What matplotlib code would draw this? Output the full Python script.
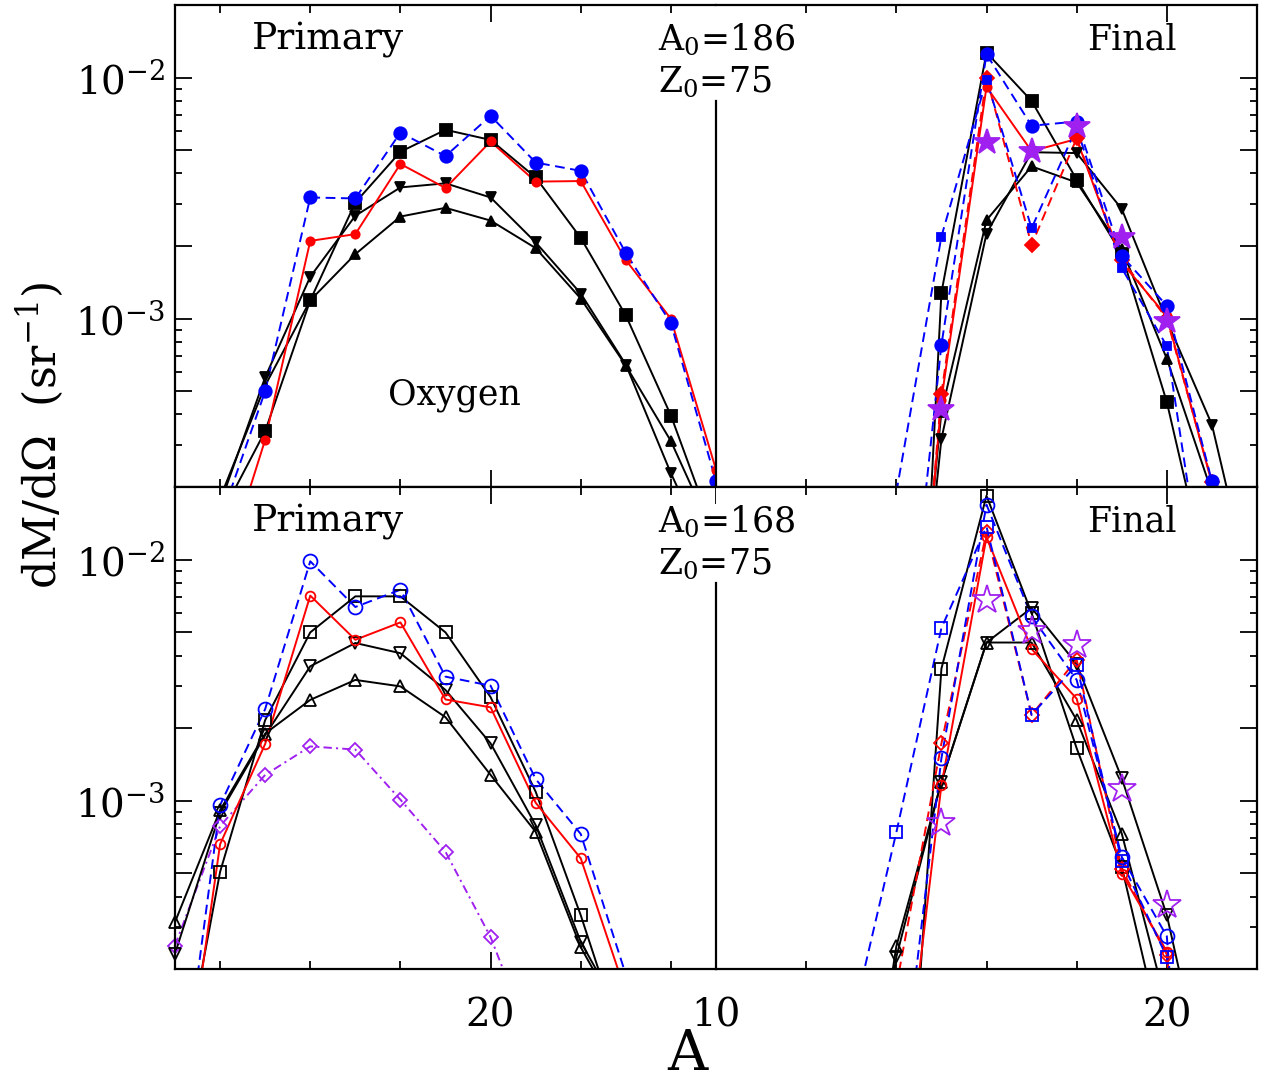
import numpy as np
import matplotlib
matplotlib.use("Agg")
import matplotlib.pyplot as plt
from matplotlib.ticker import FixedLocator, FixedFormatter, NullFormatter

plt.rcParams['font.family'] = ['DejaVu Serif']
plt.rcParams['mathtext.fontset'] = 'dejavuserif'
plt.rcParams['lines.scale_dashes'] = False

nan = np.nan
# ---------------- data ----------------
A_left_top = [32, 30, 28, 26, 24, 22, 20, 18, 16, 14, 12, 10]
A_left_bot = [34, 32, 30, 28, 26, 24, 22, 20, 18, 16, 14, 12, 10]
A_right = [13, 14, 15, 16, 17, 18, 19, 20, 21, 22]

# top panel, primary (A0=186)
tl_square = [1.5e-4, 3.41e-4, 1.19e-3, 3.03e-3, 4.92e-3, 6.07e-3, 5.51e-3, 3.85e-3, 2.16e-3, 1.03e-3, 3.96e-4, 1.22e-4]
tl_up     = [1.8e-4, 5.27e-4, 1.19e-3, 1.85e-3, 2.65e-3, 2.88e-3, 2.55e-3, 1.96e-3, 1.21e-3, 6.38e-4, 3.10e-4, 1.2e-4]
tl_down   = [1.7e-4, 5.71e-4, 1.49e-3, 2.67e-3, 3.50e-3, 3.64e-3, 3.18e-3, 2.07e-3, 1.27e-3, 6.44e-4, 2.28e-4, 9e-5]
tl_red    = [8e-5, 3.14e-4, 2.10e-3, 2.24e-3, 4.38e-3, 3.48e-3, 5.43e-3, 3.70e-3, 3.72e-3, 1.75e-3, 9.97e-4, 2.36e-4]
tl_blue   = [1.45e-4, 5.0e-4, 3.18e-3, 3.15e-3, 5.91e-3, 4.72e-3, 6.94e-3, 4.44e-3, 4.10e-3, 1.87e-3, 9.57e-4, 2.11e-4]

# top panel, final (A = 13..22)
tr_square = [nan, 3e-7, 1.28e-3, 1.27e-2, 8.0e-3, 3.77e-3, 1.85e-3, 4.5e-4, 7e-5, nan]
tr_up     = [nan, 5e-6, 4.1e-4, 2.56e-3, 4.28e-3, 3.67e-3, 1.94e-3, 6.81e-4, 1.9e-4, nan]
tr_down   = [nan, 5e-6, 3.17e-4, 2.25e-3, 4.9e-3, 4.86e-3, 2.85e-3, 9.8e-4, 3.63e-4, 5.8e-5]
tr_red    = [nan, 3e-6, 4.6e-4, 9.15e-3, 4.95e-3, 5.56e-3, 1.71e-3, 1.02e-3, 2.07e-4, nan]
tr_redD   = [nan, 3e-6, 4.88e-4, 1.0e-2, 2.02e-3, 5.6e-3, 1.75e-3, 1.0e-3, 2.1e-4, nan]
tr_blue   = [nan, 1.4e-5, 7.78e-4, 1.25e-2, 6.31e-3, 6.57e-3, 1.82e-3, 1.13e-3, 2.11e-4, nan]
tr_blueS  = [nan, 1.9e-4, 2.19e-3, 9.8e-3, 2.37e-3, 6.2e-3, 1.62e-3, 7.68e-4, 4.5e-5, nan]
tr_star   = [nan, nan, 4.22e-4, 5.42e-3, 4.97e-3, 6.31e-3, 2.17e-3, 9.76e-4, nan, nan]

# bottom panel, primary (A0=168)
bl_square = [5.1e-5, 5.07e-4, 2.16e-3, 4.99e-3, 7.04e-3, 7.04e-3, 4.99e-3, 2.69e-3, 1.09e-3, 3.35e-4, 9e-5, nan, nan]
bl_up     = [3.14e-4, 9.14e-4, 1.90e-3, 2.62e-3, 3.17e-3, 2.98e-3, 2.22e-3, 1.28e-3, 7.43e-4, 2.47e-4, 1.14e-4, nan, nan]
bl_down   = [2.32e-4, 8.9e-4, 1.87e-3, 3.61e-3, 4.51e-3, 4.09e-3, 2.88e-3, 1.73e-3, 7.92e-4, 2.60e-4, 1.2e-4, nan, nan]
bl_red    = [3.2e-5, 6.6e-4, 1.72e-3, 7.09e-3, 4.65e-3, 5.49e-3, 2.63e-3, 2.44e-3, 9.81e-4, 5.77e-4, 1.6e-4, nan, nan]
bl_blue   = [3.7e-5, 9.59e-4, 2.40e-3, 9.84e-3, 6.36e-3, 7.50e-3, 3.27e-3, 3.00e-3, 1.23e-3, 7.28e-4, 1.9e-4, nan, nan]
bl_purple = [2.51e-4, 7.85e-4, 1.28e-3, 1.68e-3, 1.63e-3, 1.01e-3, 6.14e-4, 2.72e-4, 9e-5, nan, nan, nan, nan]

# bottom panel, final (A = 13..22)
br_square = [nan, 7e-6, 3.53e-3, 1.84e-2, 6.0e-3, 1.65e-3, 5.32e-4, 8.5e-5, nan, nan]
br_up     = [1.5e-5, 2.49e-4, 1.2e-3, 4.53e-3, 4.53e-3, 2.16e-3, 7.31e-4, 1.4e-4, nan, nan]
br_down   = [1.5e-5, 2.25e-4, 1.2e-3, 4.53e-3, 6.3e-3, 3.69e-3, 1.24e-3, 3.35e-4, 4.9e-5, nan]
br_red    = [nan, 3.1e-5, 1.16e-3, 1.24e-2, 4.26e-3, 2.65e-3, 4.99e-4, 2.37e-4, 1e-6, nan]
br_redD   = [nan, 1.7e-4, 1.73e-3, 1.3e-2, 2.27e-3, 3.85e-3, 5.2e-4, 2.3e-4, 1e-6, nan]
br_blue   = [nan, 4e-5, 1.50e-3, 1.69e-2, 5.81e-3, 3.17e-3, 5.85e-4, 2.74e-4, 1e-6, nan]
br_blueS  = [1.17e-4, 7.39e-4, 5.2e-3, 1.37e-2, 2.27e-3, 3.66e-3, 5.6e-4, 2.25e-4, 1e-6, nan]
br_star   = [nan, nan, 8.05e-4, 6.82e-3, 5.04e-3, 4.43e-3, 1.12e-3, 3.69e-4, nan, nan]

YLIM = (2.0e-4, 2.0e-2)
PURPLE = '#A020F0'

# ---------------- figure ----------------
W, H = 1262, 1080
fig = plt.figure(figsize=(W / 100, H / 100), dpi=100)

def fx(px):
    return px / W

def fy(py):
    return 1 - py / H

xl, xm, xr = fx(175), fx(716), fx(1257)
panels = [(fy(487), fy(5) - fy(487)), (fy(969.3), fy(487) - fy(969.3))]

axes = []
for (b, h) in panels:
    axL = fig.add_axes([xl, b, xm - xl, h])
    axR = fig.add_axes([xm, b, xr - xm, h])
    axes.append((axL, axR))


def style(ax, side, bottom_row):
    ax.set_yscale('log')
    ax.set_ylim(*YLIM)
    for s in ax.spines.values():
        s.set_linewidth(1.6)
    ax.yaxis.set_major_locator(FixedLocator([5e-4, 1e-3, 2e-3, 5e-3, 1e-2]))
    ax.yaxis.set_minor_locator(FixedLocator([3e-4, 4e-4, 6e-4, 7e-4, 8e-4, 9e-4,
                                             3e-3, 4e-3, 6e-3, 7e-3, 8e-3, 9e-3]))
    ax.yaxis.set_minor_formatter(NullFormatter())
    if side == 'L':
        ax.spines['right'].set_visible(False)
        ax.set_xlim(34, 10)
        ax.xaxis.set_major_locator(FixedLocator([20, 10] if bottom_row else [20]))
        ax.xaxis.set_major_formatter(FixedFormatter(['20', '10'] if bottom_row else ['20']))
        ax.xaxis.set_minor_locator(FixedLocator([32, 28, 24, 16, 12]))
        ax.yaxis.set_major_formatter(FixedFormatter(['', r'$10^{-3}$', '', '', r'$10^{-2}$']))
        ax.tick_params(axis='y', which='both', left=True, right=False, labelleft=True)
    else:
        ax.spines['left'].set_visible(False)
        ax.set_xlim(10, 22)
        ax.xaxis.set_major_locator(FixedLocator([20]))
        ax.xaxis.set_major_formatter(FixedFormatter(['20']))
        ax.xaxis.set_minor_locator(FixedLocator([12, 14, 16, 18]))
        ax.yaxis.set_major_formatter(NullFormatter())
        ax.tick_params(axis='y', which='both', left=False, right=True, labelleft=False)
    ax.xaxis.set_minor_formatter(NullFormatter())
    ax.tick_params(axis='x', which='both', top=True, bottom=True, labelbottom=bottom_row)
    ax.tick_params(which='both', direction='in', width=1.3, labelsize=28)
    ax.tick_params(axis='y', which='major', length=12, pad=7)
    ax.tick_params(axis='y', which='minor', length=5)
    ax.tick_params(axis='x', which='major', length=12, pad=20)
    ax.tick_params(axis='x', which='minor', length=6)


for i, (axL, axR) in enumerate(axes):
    style(axL, 'L', i == 1)
    style(axR, 'R', i == 1)


def series(ax, x, y, color, marker, ms, ls='-', filled=True, dashes=None, lw=1.4, mew=1.3, z=2):
    x = np.asarray(x, float)
    y = np.asarray(y, float)
    if ls is not None:
        kw = dict(color=color, lw=lw, zorder=z)
        if dashes is not None:
            kw['dashes'] = dashes
        ax.plot(x, y, ls=ls, **kw)
    lo, hi = ax.get_xlim()
    xmin, xmax = min(lo, hi), max(lo, hi)
    m = np.isfinite(y) & (y >= YLIM[0]) & (y <= YLIM[1]) & (x >= xmin) & (x <= xmax)
    ax.plot(x[m], y[m], ls='none', marker=marker, ms=ms,
            mfc=color if filled else 'none', mec=color, mew=mew,
            clip_on=False, zorder=z + 0.5)


BLUE_DASH = (7, 4)
RED_DASH = (7, 4)

# top-left
axL, axR = axes[0]
series(axL, A_left_top, tl_up, 'k', '^', 7.5)
series(axL, A_left_top, tl_down, 'k', 'v', 7.5)
series(axL, A_left_top, tl_square, 'k', 's', 8)
series(axL, A_left_top, tl_red, 'red', 'o', 6)
series(axL, A_left_top, tl_blue, 'blue', 'o', 9, ls='--', dashes=BLUE_DASH)

# top-right
series(axR, A_right, tr_up, 'k', '^', 7.5)
series(axR, A_right, tr_down, 'k', 'v', 7.5)
series(axR, A_right, tr_square, 'k', 's', 8)
series(axR, A_right, tr_red, 'red', 'o', 6)
series(axR, A_right, tr_redD, 'red', 'D', 7, ls='--', dashes=RED_DASH)
series(axR, A_right, tr_blue, 'blue', 'o', 9, ls='--', dashes=BLUE_DASH)
series(axR, A_right, tr_blueS, 'blue', 's', 5.5, ls='--', dashes=BLUE_DASH)
series(axR, A_right, tr_star, PURPLE, '*', 19, ls=None, z=4)

# bottom-left
axL2, axR2 = axes[1]
series(axL2, A_left_bot, bl_purple, PURPLE, 'D', 7.5, ls='-.', filled=False, dashes=(6, 3, 1.5, 3))
series(axL2, A_left_bot, bl_up, 'k', '^', 8.5, filled=False)
series(axL2, A_left_bot, bl_down, 'k', 'v', 8.5, filled=False)
series(axL2, A_left_bot, bl_square, 'k', 's', 8.5, filled=False)
series(axL2, A_left_bot, bl_red, 'red', 'o', 7, filled=False)
series(axL2, A_left_bot, bl_blue, 'blue', 'o', 10, ls='--', filled=False, dashes=BLUE_DASH)

# bottom-right
series(axR2, A_right, br_up, 'k', '^', 8.5, filled=False)
series(axR2, A_right, br_down, 'k', 'v', 8.5, filled=False)
series(axR2, A_right, br_square, 'k', 's', 8.5, filled=False)
series(axR2, A_right, br_red, 'red', 'o', 7, filled=False)
series(axR2, A_right, br_redD, 'red', 'D', 7.5, ls='--', filled=False, dashes=RED_DASH)
series(axR2, A_right, br_blue, 'blue', 'o', 10, ls='--', filled=False, dashes=BLUE_DASH)
series(axR2, A_right, br_blueS, 'blue', 's', 8, ls='--', filled=False, dashes=BLUE_DASH)
series(axR2, A_right, br_star, PURPLE, '*', 21, ls=None, filled=False, z=4)

# central separator lines
for axr in (axR, axR2):
    axr.axvline(10, ymin=0, ymax=0.80, color='k', lw=1.6, clip_on=False, zorder=5)

# texts
TS = 25
def ftext(x, y, s, **kw):
    fig.text(fx(x), fy(y), s, va='baseline', fontsize=kw.pop('fontsize', TS), **kw)

for y0 in (0, 482):
    ftext(252, 50 + y0, 'Primary', fontsize=27)
    ftext(1087, 50 + y0, 'Final')
ftext(658, 50, 'A$_0$=186')
ftext(658, 92, 'Z$_0$=75')
ftext(658, 532, 'A$_0$=168')
ftext(658, 574, 'Z$_0$=75')
ftext(388, 405, 'Oxygen')

fig.text(fx(40), fy(435), 'dM/dΩ  (sr$^{-1}$)', rotation=90, ha='center', va='center', fontsize=32)
fig.text(fx(687), fy(1055), 'A', ha='center', va='center', fontsize=40)

fig.savefig('out.png', dpi=100)
